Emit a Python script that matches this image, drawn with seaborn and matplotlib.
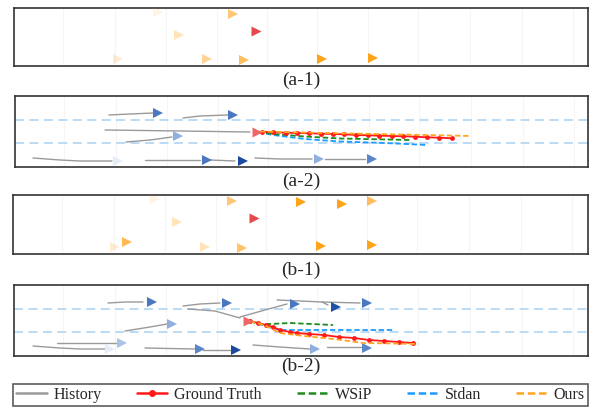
import matplotlib
matplotlib.use("Agg")
import matplotlib.pyplot as plt
import matplotlib.colors as mcolors
from matplotlib.lines import Line2D
import seaborn as sns
import pandas as pd

sns.set_style("white")
plt.rcParams["font.family"] = ["Liberation Serif", "DejaVu Serif"]

# ---------------- data (scene units: x along road, y across road) ----------------
ORANGE = "#FFA319"
TARGET_RED = "#E8474B"
PANEL_LABELS = ["(a-1)", "(a-2)", "(b-1)", "(b-2)"]

# (a-1) snapshot: x, y, alpha ; target separately
a1_x = [144, 219, 165, 104, 193, 230, 308, 359]
a1_y = [54, 52, 31, 7, 7, 6, 7, 8]
a1_alpha = [0.12, 0.6, 0.3, 0.2, 0.45, 0.7, 1.0, 1.0]
a1_target = (242, 35)

# (b-1) snapshot
b1_x = [142, 219, 288, 329, 359, 164, 102, 114, 192, 229, 308, 359]
b1_y = [55, 53, 52, 50, 53, 32, 7, 12, 7, 6, 8, 9]
b1_alpha = [0.12, 0.6, 1.0, 1.0, 0.7, 0.3, 0.2, 0.75, 0.3, 0.65, 1.0, 1.0]
b1_target = (241, 36)

# lane markings
a2_lanes = [47, 24]
b2_lanes = [47, 24]

# (a-2) history tracks of surrounding vehicles
a2_hist_x = [[94, 115, 138], [168, 185, 213], [111, 135, 157], [18, 45, 65, 97],
             [130, 185], [195, 220], [240, 265, 297], [310, 350]]
a2_hist_y = [[52, 53, 54], [49, 51, 52], [25, 27, 30], [9, 7, 6, 6],
             [7, 7], [7, 6], [9, 8, 8], [8, 8]]
a2_tri_x = [143, 218, 163, 103, 192, 228, 304, 357]
a2_tri_y = [54, 52, 31, 6, 7, 6, 8, 8]
a2_tri_c = ["#4a78c0", "#4a78c0", "#8fb0df", "#e4edf8", "#4a78c0", "#1a4aa0", "#8fb0df", "#5a86c8"]
a2_target_hist_x = [90, 165, 235]
a2_target_hist_y = [37, 36, 35]
a2_target = (242, 35)
a2_gt_x = [247, 258, 271, 282, 294, 306, 318, 329, 341, 353, 364, 377, 388, 400, 412, 424, 437]
a2_gt_y = [35.3, 34.7, 34.3, 34.0, 33.7, 33.3, 33.0, 32.7, 32.0, 31.7, 31.3, 31.0, 30.7, 30.3, 29.7, 29.3, 28.7]
a2_ours_x = [245, 300, 360, 420, 455]
a2_ours_y = [35.5, 34.2, 33.0, 31.8, 31.0]
a2_wsip_x = [243, 258, 290, 325, 395]
a2_wsip_y = [35, 33, 30.5, 28.5, 27]
a2_stdan_x = [243, 258, 290, 325, 370, 412]
a2_stdan_y = [35, 32, 28, 25.5, 24, 22]

# (b-2)
b2_hist_x = [[94, 111, 129], [169, 186, 206], [226, 251, 273], [263, 286, 308, 314],
             [308, 346], [111, 136, 153], [19, 46, 66, 91], [43, 103],
             [131, 181], [189, 216], [239, 266, 296], [313, 348]]
b2_hist_y = [[53, 54, 54], [50, 52, 53], [39, 46, 52], [56, 55, 54, 51],
             [54, 53], [25, 29, 32], [10, 8, 7, 7], [13, 13],
             [8, 7], [6, 6], [11, 9, 7], [9, 9]]
b2_tri_x = [138, 213, 281, 322, 353, 158, 96, 108, 186, 222, 301, 353]
b2_tri_y = [54, 53, 52, 49, 53, 32, 7, 13, 7, 6, 7, 8]
b2_tri_c = ["#4a78c0", "#4a78c0", "#4a78c0", "#1f52a6", "#4a78c0", "#8fb0df",
            "#e4edf8", "#a9c2e6", "#5a86c8", "#1a4aa0", "#8fb0df", "#5a86c8"]
b2_target_hist_x = [174, 201, 226]
b2_target_hist_y = [47, 45, 38]
b2_target = (234, 35)
b2_gt_x = [236, 244, 252, 259, 266, 276, 283, 295, 310, 325, 340, 355, 370, 385, 399]
b2_gt_y = [35, 33, 31, 29, 26, 24, 23, 22, 21, 19, 18, 16, 15, 14, 13]
b2_ours_x = [236, 250, 266, 290, 320, 349, 380, 404]
b2_ours_y = [35, 31, 23, 20, 17, 13, 12.5, 12]
b2_wsip_x = [236, 244, 256, 276, 319]
b2_wsip_y = [35, 32, 32, 33, 31]
b2_stdan_x = [236, 251, 266, 306, 381]
b2_stdan_y = [35, 30, 26, 26, 26]

grid_x = [49, 101, 152, 203, 253, 303, 354, 404, 456, 508, 559]

# ---------------- styles ----------------
HIST_C = "#9a9a9a"
GT_C = "#FF1A1A"
WSIP_C = "#1E8C1E"
STDAN_C = "#1E9BFF"
OURS_C = "#FFA520"
LANE_C = "#B5D8F5"
TRI_S = 52

W, H = 592, 407
fig = plt.figure(figsize=(W / 100, H / 100), dpi=100)


def make_ax(left, right, top, bottom):
    ax = fig.add_axes([left / W, 1 - bottom / H, (right - left) / W, (bottom - top) / H])
    ax.set_xlim(0, right - left)
    ax.set_ylim(0, bottom - top)
    ax.set_xticks(grid_x)
    ax.set_yticks([])
    ax.tick_params(length=0, labelbottom=False, labelleft=False)
    ax.grid(axis="x", color="#f5f5f5", linewidth=0.8)
    for s in ax.spines.values():
        s.set_color("#333333")
        s.set_linewidth(1.2)
    return ax


def tri(ax, xs, ys, colors, zorder=5):
    df = pd.DataFrame({"x": xs, "y": ys, "k": [str(i) for i in range(len(xs))]})
    pal = {str(i): colors[i] for i in range(len(xs))}
    sns.scatterplot(data=df, x="x", y="y", hue="k", palette=pal, marker=">", s=TRI_S,
                    linewidth=0, legend=False, ax=ax, zorder=zorder)


def snapshot(ax, xs, ys, alphas, target):
    cols = [mcolors.to_rgba(ORANGE, a) for a in alphas]
    tri(ax, xs, ys, cols)
    tri(ax, [target[0]], [target[1]], [TARGET_RED])


def line(ax, xs, ys, color, ls="-", lw=1.0, marker=None, ms=0, zorder=3):
    df = pd.DataFrame({"x": xs, "y": ys})
    sns.lineplot(data=df, x="x", y="y", sort=False, estimator=None, color=color,
                 linestyle=ls, linewidth=lw, marker=marker, markersize=ms,
                 markeredgewidth=0, ax=ax, zorder=zorder)
    ax.set_xlabel("")
    ax.set_ylabel("")


def scene(ax, lanes, hx, hy, tx, ty, tc, thx, thy, target,
          gtx, gty, ox, oy, wx, wy, sx, sy):
    for ly in lanes:
        ax.axhline(ly, color=LANE_C, linestyle=(0, (5, 3)), linewidth=1.3, zorder=1)
    for xs, ys in zip(hx, hy):
        line(ax, xs, ys, HIST_C, lw=1.0)
    line(ax, thx, thy, HIST_C, lw=1.0)
    tri(ax, tx, ty, tc)
    line(ax, sx, sy, STDAN_C, ls=(0, (3, 1.5)), lw=1.3, zorder=4)
    line(ax, wx, wy, WSIP_C, ls=(0, (3, 1.5)), lw=1.3, zorder=4)
    line(ax, gtx, gty, GT_C, lw=1.3, marker="o", ms=3.5, zorder=6)
    line(ax, ox, oy, OURS_C, ls=(0, (3, 1.5)), lw=1.3, zorder=7)
    tri(ax, [target[0]], [target[1]], ["#F06565"], zorder=8)


ax1 = make_ax(14, 588, 8, 66)
snapshot(ax1, a1_x, a1_y, a1_alpha, a1_target)

ax2 = make_ax(15, 588, 96, 167)
scene(ax2, a2_lanes, a2_hist_x, a2_hist_y, a2_tri_x, a2_tri_y, a2_tri_c,
      a2_target_hist_x, a2_target_hist_y, a2_target,
      a2_gt_x, a2_gt_y, a2_ours_x, a2_ours_y, a2_wsip_x, a2_wsip_y, a2_stdan_x, a2_stdan_y)

ax3 = make_ax(13, 588, 195, 254)
snapshot(ax3, b1_x, b1_y, b1_alpha, b1_target)

ax4 = make_ax(14, 588, 285, 356)
scene(ax4, b2_lanes, b2_hist_x, b2_hist_y, b2_tri_x, b2_tri_y, b2_tri_c,
      b2_target_hist_x, b2_target_hist_y, b2_target,
      b2_gt_x, b2_gt_y, b2_ours_x, b2_ours_y, b2_wsip_x, b2_wsip_y, b2_stdan_x, b2_stdan_y)

# panel labels
label_y = [80, 181, 270, 366]
for lab, yy in zip(PANEL_LABELS, label_y):
    fig.text(301 / W, 1 - yy / H, lab, ha="center", va="center", fontsize=14)

# legend
handles = [
    Line2D([], [], color=HIST_C, lw=1.8),
    Line2D([], [], color=GT_C, lw=1.8, marker="o", markersize=4),
    Line2D([], [], color=WSIP_C, lw=1.8, linestyle=(0, (3, 1.5))),
    Line2D([], [], color=STDAN_C, lw=1.8, linestyle=(0, (3, 1.5))),
    Line2D([], [], color=OURS_C, lw=1.8, linestyle=(0, (3, 1.5))),
]
names = ["History", "Ground Truth", "WSiP", "Stdan", "Ours"]
leg = fig.legend(handles, names, loc="lower left", ncol=5, mode="expand",
                 bbox_to_anchor=(13 / W, 1 - 406 / H, 575 / W, 23 / H),
                 fontsize=11.5, frameon=True, fancybox=False, borderaxespad=0,
                 handlelength=1.9, handletextpad=0.45, borderpad=0.2)
leg.get_frame().set_edgecolor("#333333")
leg.get_frame().set_linewidth(1.2)

fig.savefig("out.png", dpi=100)
